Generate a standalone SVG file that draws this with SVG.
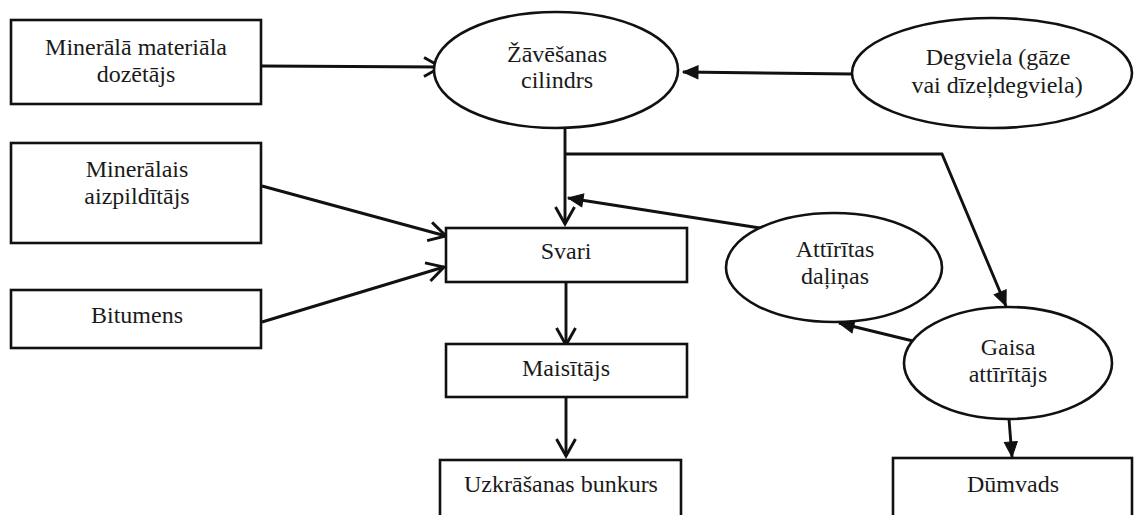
<svg xmlns="http://www.w3.org/2000/svg" width="1134" height="515" viewBox="0 0 1134 515">
<style>
.box{fill:#fff;stroke:#111;stroke-width:2.6}
.ell{fill:#fff;stroke:#111;stroke-width:2.6}
.lbl{font-family:"Liberation Serif","Times New Roman",serif;font-size:24px;fill:#1a1a1a;text-anchor:middle}
.con{fill:none;stroke:#111;stroke-width:2.9}
.open{marker-end:url(#openArrow)}
.filled{marker-end:url(#fillArrow)}
</style>
<defs>
<marker id="openArrow" markerUnits="userSpaceOnUse" markerWidth="30" markerHeight="30" viewBox="-22 -15 30 30" refX="0" refY="0" orient="auto" overflow="visible">
<path d="M-17 -9.5 L0 0 L-17 9.5" fill="none" stroke="#111" stroke-width="2.9"/>
</marker>
<marker id="fillArrow" markerUnits="userSpaceOnUse" markerWidth="30" markerHeight="30" viewBox="-22 -15 30 30" refX="0" refY="0" orient="auto" overflow="visible">
<path d="M-15 -6.5 L0 0 L-15 6.5 Z" fill="#111" stroke="#111" stroke-width="1"/>
</marker>
</defs>
<rect width="1134" height="515" fill="#fff"/>

<g id="connectors">
<path class="con open" d="M261 66 L441 67"/>
<path class="con filled" d="M852 74 L683 72"/>
<path class="con open" d="M565 128 L565 224"/>
<path class="con filled" d="M565 154 L942 154 L1006 306"/>
<path class="con filled" d="M760 228 L568 198"/>
<path class="con filled" d="M913 341 L839 323"/>
<path class="con filled" d="M1009 419 L1012 457"/>
<path class="con open" d="M262 186 L446 236"/>
<path class="con open" d="M262 322 L444 267"/>
<path class="con open" d="M566 282 L566 345"/>
<path class="con open" d="M566 397 L566 456"/>
</g>

<g id="node-dozetajs">
<rect class="box" x="11" y="20" width="250" height="84"/>
<text class="lbl" x="136" y="55">Minerālā materiāla</text>
<text class="lbl" x="136" y="82">dozētājs</text>
</g>

<g id="node-zavesanas">
<ellipse class="ell" cx="556" cy="70" rx="122" ry="58"/>
<text class="lbl" x="557" y="62">Žāvēšanas</text>
<text class="lbl" x="557" y="88">cilindrs</text>
</g>

<g id="node-degviela">
<ellipse class="ell" cx="992" cy="73" rx="140" ry="55"/>
<text class="lbl" x="998" y="65">Degviela (gāze</text>
<text class="lbl" x="997" y="93">vai dīzeļdegviela)</text>
</g>

<g id="node-aizpilditajs">
<rect class="box" x="11" y="143" width="250" height="100"/>
<text class="lbl" x="137" y="177">Minerālais</text>
<text class="lbl" x="137" y="204">aizpildītājs</text>
</g>

<g id="node-bitumens">
<rect class="box" x="11" y="290" width="250" height="58"/>
<text class="lbl" x="137" y="323">Bitumens</text>
</g>

<g id="node-svari">
<rect class="box" x="446" y="228" width="241" height="54"/>
<text class="lbl" x="566" y="259">Svari</text>
</g>

<g id="node-attiritas">
<ellipse class="ell" cx="834" cy="267.5" rx="108" ry="54.5"/>
<text class="lbl" x="835" y="257">Attīrītas</text>
<text class="lbl" x="835" y="284">daļiņas</text>
</g>

<g id="node-gaisa">
<ellipse class="ell" cx="1008" cy="363" rx="104" ry="56"/>
<text class="lbl" x="1008" y="355">Gaisa</text>
<text class="lbl" x="1008" y="382">attīrītājs</text>
</g>

<g id="node-maisitajs">
<rect class="box" x="446" y="344" width="241" height="53"/>
<text class="lbl" x="566" y="376">Maisītājs</text>
</g>

<g id="node-uzkrasanas">
<rect class="box" x="440" y="460" width="241" height="70"/>
<text class="lbl" x="561" y="492">Uzkrāšanas bunkurs</text>
</g>

<g id="node-dumvads">
<rect class="box" x="893" y="458" width="239" height="72"/>
<text class="lbl" x="1013" y="492">Dūmvads</text>
</g>
</svg>
